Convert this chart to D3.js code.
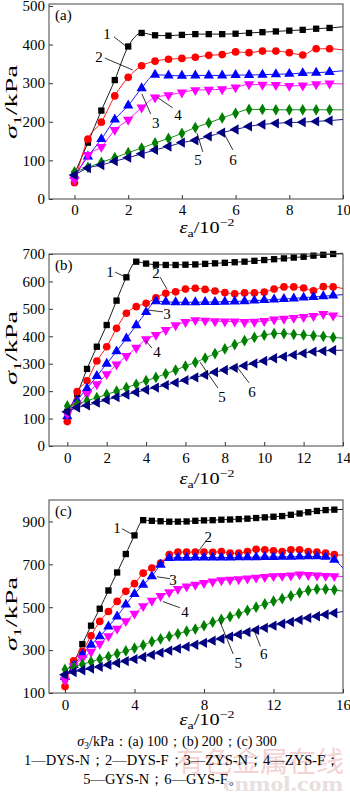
<!DOCTYPE html>
<html><head><meta charset="utf-8">
<script src="https://cdn.jsdelivr.net/npm/d3@7/dist/d3.min.js"></script>
<style>body{margin:0;background:#fff}svg{display:block}</style>
</head><body><svg id="chart" width="350" height="796"></svg>
<script>
// ---------------- DATA ----------------
const seriesNames = ["DYS-N","DYS-F","ZYS-N","ZYS-F","GYS-N","GYS-F"];
const confining = ["100","200","300"];

const strainA = [0,0.5,1,1.5,2,2.5,3,3.5,4,4.5,5,5.5,6,6.5,7,7.5,8,8.5,9,9.5,10];
const a_DYSN = [65,146,229,308,395,430,424,423,425,427,427,427,428,430,432,434,436,438,441,443,446];
const a_DYSF = [42,155,199,267,315,345,357,362,364,367,372,374,381,379,383,383,379,373,389,389,386];
const a_ZYSN = [60,110,155,206,242,287,322,320,319,320,320,320,321,321,322,323,324,326,327,329,332];
const a_ZYSF = [50,114,135,179,205,237,263,269,276,282,283,284,289,297,296,295,293,294,297,299,298];
const a_GYSN = [70,82,95,107,120,132,145,157,170,185,197,210,222,232,232,231,231,231,231,231,231];
const a_GYSF = [62,80,88,98,107,117,127,136,146,152,162,172,180,188,193,196,198,199,201,203,206];

const strainB = [0,0.5,1,1.5,2,2.5,3,3.5,4,4.5,5,5.5,6,6.5,7,7.5,8,8.5,9,9.5,10,10.5,11,11.5,12,12.5,13,13.5,14];
const b_DYSN = [125,190,281,362,441,530,615,672,665,661,660,660,661,662,664,666,668,670,672,675,678,681,684,687,690,694,697,700,703];
const b_DYSF = [89,198,238,310,362,429,484,508,520,540,557,562,572,575,571,565,559,555,558,558,561,572,580,580,576,566,581,580,574];
const b_ZYSN = [108,165,210,255,300,345,392,440,488,528,526,524,524,524,525,525,526,527,528,530,532,534,536,538,541,543,546,549,552];
const b_ZYSF = [117,150,190,225,262,297,328,358,389,405,423,440,452,459,457,455,454,454,452,453,456,461,464,467,470,474,481,476,472];
const b_GYSN = [146,153,165,176,188,200,213,225,238,250,263,277,291,305,320,337,354,370,384,396,404,410,410,407,405,402,400,396,393];
const b_GYSF = [125,140,148,158,168,178,187,196,205,213,222,231,240,250,259,269,277,285,293,301,310,320,326,332,338,344,346,349,349];

const strainC = [0,0.5,1,1.5,2,2.5,3,3.5,4,4.5,5,5.5,6,6.5,7,7.5,8,8.5,9,9.5,10,10.5,11,11.5,12,12.5,13,13.5,14,14.5,15,15.5,16];
const c_DYSN = [165,240,328,414,493,578,662,748,835,906,903,901,899,899,900,903,905,906,908,909,911,913,916,919,922,925,931,937,943,949,953,955,956];
const c_DYSF = [130,250,294,367,434,480,527,574,610,659,683,706,745,757,757,757,757,756,760,752,752,760,770,768,763,760,768,768,760,757,752,745,743];
const c_ZYSN = [175,230,279,325,364,410,457,512,562,605,644,698,730,731,731,732,732,732,732,732,733,733,733,734,734,735,735,736,737,737,735,721,682];
const c_ZYSF = [160,225,262,292,330,365,400,435,470,505,530,552,570,585,597,605,613,620,626,628,630,634,638,641,645,646,648,653,650,648,646,645,643];
const c_GYSN = [210,222,234,246,258,270,283,296,309,323,340,352,364,376,388,398,414,430,443,456,470,485,500,515,528,540,553,567,578,584,584,581,575];
const c_GYSF = [185,198,206,214,222,231,240,249,258,268,278,288,298,307,316,325,334,344,353,363,373,384,394,404,414,423,432,441,450,458,466,473,480];

const xTicksA = [0,2,4,6,8,10];
const xTicksB = [0,2,4,6,8,10,12,14];
const xTicksC = [0,4,8,12,16];
const yTicksA = [0,100,200,300,400,500];
const yTicksB = [0,100,200,300,400,500,600,700];
const yTicksC = [100,300,500,700,900];

// ---------------- STYLE / LAYOUT ----------------
const styles = [
  {color:"#000000", sym:d3.symbolSquare,   rot:0,   size:40},
  {color:"#ff0000", sym:d3.symbolCircle,   rot:0,   size:46},
  {color:"#0000ff", sym:d3.symbolTriangle, rot:0,   size:46},
  {color:"#ff00ff", sym:d3.symbolTriangle, rot:180, size:46},
  {color:"#008000", sym:d3.symbolDiamond,  rot:0,   size:40},
  {color:"#000080", sym:d3.symbolTriangle, rot:-90, size:46}
];
const serif = "'Liberation Serif','Times New Roman',serif";
const L = 49, R = 343;

const panels = [
  {tag:"(a)", strain:strainA, series:[a_DYSN,a_DYSF,a_ZYSN,a_ZYSF,a_GYSN,a_GYSF],
   xDom:[-0.95,10], yDom:[0,505], top:4, bottom:199, xTicks:xTicksA, yTicks:yTicksA,
   tickBase:215, titleBase:233, yTitleC:102,
   ann:[["1",1.21,427,1.47,420,1.95,394],["2",0.91,368,1.13,365,2.17,334],["3",3.03,197,2.84,220,2.51,272],
        ["4",3.85,218,3.66,236,3.07,264],["5",4.6,101,4.78,122,4.56,171],["6",5.9,101,5.9,127,5.56,171]]},
  {tag:"(b)", strain:strainB, series:[b_DYSN,b_DYSF,b_ZYSN,b_ZYSF,b_GYSN,b_GYSF],
   xDom:[-0.93,14], yDom:[0,700], top:254, bottom:446, xTicks:xTicksB, yTicks:yTicksB,
   tickBase:463, titleBase:484, yTitleC:348,
   ann:[["1",2.17,634,2.42,634,3.08,612],["2",4.5,631,4.71,616,5.06,572],["3",5.06,481,4.86,489,4.05,496],
        ["4",4.55,343,4.3,357,3.95,386],["5",7.86,179,7.65,211,6.74,306],["6",9.38,197,9.23,230,8.62,288]]},
  {tag:"(c)", strain:strainC, series:[c_DYSN,c_DYSF,c_ZYSN,c_ZYSF,c_GYSN,c_GYSF],
   xDom:[-0.92,16], yDom:[100,1000], top:500, bottom:693, xTicks:xTicksC, yTicks:yTicksC,
   tickBase:710, titleBase:725, yTitleC:614,
   ann:[["1",2.99,871,3.28,866,3.91,838],["2",8.24,830,8.1,807,7.67,760],["3",6.21,628,6.04,633,5.29,642],
        ["4",6.9,479,6.61,498,5.64,526],["5",9.97,240,9.68,282,8.91,434],["6",11.44,282,11.25,317,10.83,403]]}
];

const svg = d3.select("#chart");
svg.append("rect").attr("width",350).attr("height",796).attr("fill","#fff");

// watermark
svg.append("text").attr("x",344).attr("y",772).attr("text-anchor","end")
  .attr("font-family","'Noto Sans CJK SC',sans-serif").attr("font-size",28)
  .attr("fill","#f3d3d3").text("有色金属在线");
svg.append("text").attr("x",223).attr("y",791)
  .attr("font-family",serif).attr("font-weight","bold").attr("font-size",21)
  .attr("textLength",120).attr("lengthAdjust","spacingAndGlyphs")
  .attr("fill","#e8e0e0").text("cnmol.com");

panels.forEach(p => {
  const x = d3.scaleLinear().domain(p.xDom).range([L,R]);
  const y = d3.scaleLinear().domain(p.yDom).range([p.bottom,p.top]);
  const g = svg.append("g");

  // series
  p.series.forEach((vals,i) => {
    const st = styles[i];
    const pts = p.strain.map((s,j)=>({s, v:vals[j]}));
    g.append("path").datum(pts)
      .attr("fill","none").attr("stroke",st.color).attr("stroke-width",0.9)
      .attr("d", d3.line().x(d=>x(d.s)).y(d=>y(d.v)).curve(d3.curveMonotoneX));
    const sym = d3.symbol().type(st.sym).size(st.size);
    g.selectAll(null).data(pts.slice(0,-1)).join("path")
      .attr("d", sym)
      .attr("fill", st.color)
      .attr("transform", d=>`translate(${x(d.s)},${y(d.v)}) rotate(${st.rot})`);
  });

  // annotations
  p.ann.forEach(a => {
    g.append("line").attr("x1",x(a[3])).attr("y1",y(a[4])).attr("x2",x(a[5])).attr("y2",y(a[6]))
      .attr("stroke","#000").attr("stroke-width",0.8);
    g.append("text").attr("x",x(a[1])).attr("y",y(a[2])).attr("dy","0.35em")
      .attr("text-anchor","middle").attr("font-family",serif).attr("font-size",15).text(a[0]);
  });

  // axes
  const xa = g.append("g").attr("transform",`translate(0,${p.bottom})`)
    .call(d3.axisBottom(x).tickValues(p.xTicks).tickSizeInner(-4).tickSizeOuter(0).tickPadding(5).tickFormat(d3.format("d")));
  const ya = g.append("g").attr("transform",`translate(${L},0)`)
    .call(d3.axisLeft(y).tickValues(p.yTicks).tickSizeInner(-4).tickSizeOuter(0).tickPadding(4).tickFormat(d3.format("d")));
  [xa,ya].forEach(ax => {
    ax.select(".domain").remove();
    ax.selectAll(".tick line").attr("stroke","#333");
    ax.selectAll("text").attr("font-family",serif).attr("font-size",15).attr("fill","#000");
  });
  xa.selectAll("text").attr("dy",null).attr("y", p.tickBase - p.bottom);

  // frame
  g.append("rect").attr("x",L).attr("y",p.top).attr("width",R-L).attr("height",p.bottom-p.top)
    .attr("fill","none").attr("stroke","#444").attr("stroke-width",1);

  // panel tag
  g.append("text").attr("x",55).attr("y",p.top+16).attr("font-family",serif).attr("font-size",15).text(p.tag);

  // x title
  const xt = g.append("text").attr("x",207).attr("y",p.titleBase).attr("text-anchor","middle")
    .attr("font-family",serif).attr("font-size",16)
    .attr("textLength",55).attr("lengthAdjust","spacingAndGlyphs");
  xt.append("tspan").attr("font-style","italic").text("ε");
  xt.append("tspan").attr("font-size",11).attr("dy",4).text("a");
  xt.append("tspan").attr("dy",-4).text("/10");
  xt.append("tspan").attr("font-size",11).attr("dy",-7).text("−2");

  // y title
  const yt = g.append("text").attr("transform",`translate(17,${p.yTitleC}) rotate(-90)`)
    .attr("text-anchor","middle").attr("font-family",serif).attr("font-size",16)
    .attr("textLength",74).attr("lengthAdjust","spacingAndGlyphs");
  yt.append("tspan").attr("font-style","italic").text("σ");
  yt.append("tspan").attr("font-size",11).attr("dy",4).text("1");
  yt.append("tspan").attr("dy",-4).text("/kPa");
});

// caption
const cap1 = svg.append("text").attr("x",177).attr("y",746).attr("text-anchor","middle")
  .attr("font-family",serif).attr("font-size",14);
cap1.append("tspan").attr("font-style","italic").text("σ");
cap1.append("tspan").attr("font-size",10).attr("dy",3).text("3");
cap1.append("tspan").attr("dy",-3).text(`/kPa：(a) ${confining[0]}；(b) ${confining[1]}；(c) ${confining[2]}`);

svg.append("text").attr("x",182).attr("y",765).attr("text-anchor","middle")
  .attr("font-family",serif).attr("font-size",14.5)
  .text(`1—${seriesNames[0]}；2—${seriesNames[1]}；3—${seriesNames[2]}；4—${seriesNames[3]}；`);
svg.append("text").attr("x",163).attr("y",784).attr("text-anchor","middle")
  .attr("font-family",serif).attr("font-size",14.5)
  .text(`5—${seriesNames[4]}；6—${seriesNames[5]}。`);
</script></body></html>
